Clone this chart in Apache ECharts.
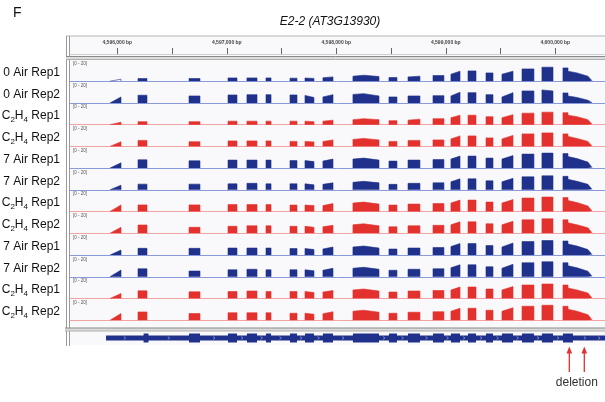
<!DOCTYPE html>
<html>
<head>
<meta charset="utf-8">
<script src="https://cdn.jsdelivr.net/npm/echarts@6/dist/echarts.min.js"></script>
<style>
  html, body { margin: 0; padding: 0; background: #ffffff; }
  #c { width: 605px; height: 402px; }
</style>
</head>
<body>
<div id="c"></div>
<script>
// ---- Locus / view (chr3) ----
const CHROM_OFFSET = 4596000;               // positions below are relative to this
const VIEW_START = 4595568;
const VIEW_END = 4600454;
const rulerTicks = [4596000, 4596500, 4597000, 4597500, 4598000, 4598500, 4599000, 4599500, 4600000];
const rulerLabels = [4596000, 4597000, 4598000, 4599000, 4600000];
const dataRange = [0, 20];

const panelLetter = 'F';
const locusTitle = 'E2-2 (AT3G13930)';

// ---- Track names and sample type ----
const trackNames = [
  '0 Air Rep1', '0 Air Rep2', 'C2H4 Rep1', 'C2H4 Rep2',
  '7 Air Rep1', '7 Air Rep2', 'C2H4 Rep1', 'C2H4 Rep2',
  '7 Air Rep1', '7 Air Rep2', 'C2H4 Rep1', 'C2H4 Rep2'
];
const trackTreatment = ['air', 'air', 'eth', 'eth', 'air', 'air', 'eth', 'eth', 'air', 'air', 'eth', 'eth'];

// ---- Covered segments (bp, relative to CHROM_OFFSET); contiguous pieces share an edge ----
const segments = [
  [-67, 34], [189, 271], [655, 755], [1011, 1093], [1184, 1276], [1358, 1404],
  [1577, 1641], [1714, 1796], [1878, 1970], [2152, 2250], [2250, 2390],
  [2481, 2554], [2655, 2764], [2883, 2983], [3047, 3130], [3203, 3276],
  [3367, 3431], [3513, 3614], [3696, 3805], [3878, 3979],
  [4070, 4116], [4116, 4198], [4198, 4298], [4298, 4335]
];

// ---- Read depth per segment: a number = flat, [left, right] = sloped ----
const cov01 = [[0.8, 2], 2.7, 2.7, 3.3, 3.3, 3.3, 3, [3.2, 2.8], [3.5, 4.3], [5, 6], [6, 4.7], 3.7, [4.3, 5], 5.7, [7, 10], 10.3, 8.3, [7, 10], 12.3, 14, 13.3, [10, 8.3], [8, 5], [4, 0.5]];
const cov02 = [[1, 6], 7.7, 7, 8, 8.3, 8.3, 8, [7.5, 5.5], [6, 8.3], [8.5, 9.3], [9, 7], 6, 7, 7.3, [7, 10.7], 10.3, 8.3, [6, 10.3], 12, [13, 12], 10, [7, 5.5], [5, 2.7], [2, 0.3]];
const cov03 = [[0.5, 2.5], 3, 3, 3.5, 3.5, 3.5, 3.5, [3.5, 3], [3.5, 4.5], [5, 6], [6, 5], 4, [4.5, 5.5], 6, [7, 9.5], 9.5, 8, [7, 10], 11.5, 12.5, 12, [9.5, 8], [7.5, 5], [4, 0.5]];
const cov04 = [[1, 4.7], 6, 4.7, 5.5, 5.5, 5.5, 5, [5, 4.5], [5, 6.5], [7, 8], [8, 6.5], 5, 6, 6.5, [7.5, 10.5], 10.5, 8.5, [7.5, 11], 12.5, 13.5, 12.5, [10, 8], [7.5, 5], [4, 0.5]];
const cov05 = [[1, 5.3], 8.3, 7.3, 8, 8, 8, 7.5, [7.5, 6.5], [7, 9], [9, 10], [10, 8], 7, 8, 8.5, [9, 12], 12, 10, [9, 12.5], 14, 15, 14.5, [11.5, 9.5], [9, 6], [5, 0.5]];
const cov06 = [[1, 4.7], 5.7, 5.7, 6, 6.5, 6, 6, [6, 5], [5.5, 7], [7.5, 8.5], [8.5, 7], 5.5, 6.5, 7, [8, 11], 11, 9, [8, 11.5], 13, 14, 13.5, [10.5, 8.5], [8, 5.5], [4.5, 0.5]];
const cov07 = [[1, 6.7], 6.7, 6.7, 7, 7, 7, 6.5, [6.5, 6], [6, 8], [8.5, 9.5], [9.5, 7.5], 6.5, 7.5, 8, [8.5, 11.5], 11.5, 9.5, [8.5, 12], 13.5, 14.5, 14, [11, 9], [8.5, 5.5], [4.5, 0.5]];
const cov08 = [[1, 6], 8.3, 6, 7, 7.5, 7.5, 7, [7, 6], [6.5, 8], [8.5, 9.5], [9.5, 7.5], 6.5, 7.5, 8, [8.5, 11.5], 11.5, 9.5, [8.5, 12], 13.5, 14.5, 13.5, [10.5, 8.5], [8, 5.5], [4.5, 0.5]];
const cov09 = [[1, 5], 6.7, 6.7, 7, 7, 7, 6.5, [6.5, 5.5], [6, 8], [8, 9], [9, 7], 6, 7, 7.5, [8.5, 11.5], 11.5, 9.5, [8, 12], 13.5, 14.5, 14, [11, 9], [8.5, 5.5], [4.5, 0.5]];
const cov10 = [[1, 6.7], 8, 5.7, 7, 7.5, 7, 7, [7, 6], [6.5, 8.5], [8.5, 9.5], [9.5, 7.5], 6.5, 7.5, 8, [9, 12], 12, 10, [8.5, 12.5], 14, 15, 14, [11, 9], [8.5, 5.5], [4.5, 0.5]];
const cov11 = [[1, 5], 7.7, 6.7, 7, 7.5, 7, 7, [7, 6], [6.5, 8], [8.5, 9.5], [9.5, 7.5], 6.5, 7.5, 8, [8.5, 11.5], 11.5, 9.5, [8.5, 12], 13.5, 14.5, 13.5, [10.5, 8.5], [8, 5.5], [4.5, 0.5]];
const cov12 = [[1, 6.7], 8.3, 6.7, 7.5, 7.5, 7.5, 7, [7, 6], [6.5, 8.5], [9, 10], [10, 8], 7, 8, 8.5, [9, 12], 12, 10, [9, 12.5], 14, 15, 14, [11, 9], [8.5, 5.5], [4.5, 0.5]];
const coverage = [cov01, cov02, cov03, cov04, cov05, cov06, cov07, cov08, cov09, cov10, cov11, cov12];

// ---- Gene model (relative bp) ----
const geneSpan = [-103, 4460];
const geneBlocks = [
  [240, 285], [655, 755], [1011, 1093], [1184, 1276], [1358, 1404], [1577, 1641],
  [1714, 1796], [1878, 1970], [2152, 2390], [2481, 2554], [2655, 2764], [2883, 2983],
  [3047, 3130], [3203, 3276], [3367, 3431], [3513, 3614], [3696, 3805], [3878, 3979],
  [4070, 4161]
];
const deletionSites = [4128, 4265];
const deletionLabel = 'deletion';

// ---- Styling ----
const FONT = '"Liberation Sans", Arial, Helvetica, sans-serif';
const COLORS = {
  air: { fill: '#1f318a', base: '#8a9ad8' },
  eth: { fill: '#e3312e', base: '#f2a4a4' }
};
const PANEL_LEFT = 70;
const TRACK_TOP0 = 61.2, TRACK_STEP = 21.73, TRACK_H = 20;
const GENE_TOP = 331, GENE_H = 14;

const abs = v => CHROM_OFFSET + v;

function coverageSeriesData(values) {
  const pts = [];
  let prevEnd = null;
  segments.forEach((seg, i) => {
    const v = values[i];
    const hl = Array.isArray(v) ? v[0] : v;
    const hr = Array.isArray(v) ? v[1] : v;
    const s = abs(seg[0]), e = abs(seg[1]);
    if (prevEnd !== s) {
      if (prevEnd !== null) {
        pts.push([prevEnd, 0]);
        pts.push([(prevEnd + s) / 2, '-']);
      }
      pts.push([s, 0]);
    }
    pts.push([s, hl]);
    pts.push([e, hr]);
    prevEnd = e;
  });
  pts.push([prevEnd, 0]);
  return pts;
}

function richName(name) {
  if (name.indexOf('C2H4') === 0) {
    return '{m|C}{s|2}{m|H}{s|4}{m|' + name.slice(4) + '}';
  }
  return '{m|' + name + '}';
}

const grids = [], xAxes = [], yAxes = [], series = [];

// Ruler
grids.push({ left: PANEL_LEFT, right: 0, top: 53, height: 1, outerBoundsMode: 'none' });
xAxes.push({
  type: 'value', gridIndex: 0, min: VIEW_START, max: VIEW_END, position: 'top',
  axisLine: { show: true, lineStyle: { color: '#cfcfcf', width: 1 } },
  axisTick: { show: true, customValues: rulerTicks, length: 6, lineStyle: { color: '#666', width: 1 } },
  axisLabel: {
    show: true, customValues: rulerLabels, margin: 8, fontSize: 5, fontWeight: 'bold',
    color: '#444', fontFamily: FONT,
    formatter: v => Number(v).toLocaleString('en-US') + ' bp'
  },
  splitLine: { show: false }
});
yAxes.push({ type: 'value', gridIndex: 0, show: false, min: 0, max: 1 });

// Coverage tracks
trackNames.forEach((name, k) => {
  const gi = k + 1;
  const col = COLORS[trackTreatment[k]];
  grids.push({ left: PANEL_LEFT, right: 0, top: TRACK_TOP0 + TRACK_STEP * k, height: TRACK_H, outerBoundsMode: 'none' });
  xAxes.push({
    type: 'value', gridIndex: gi, min: VIEW_START, max: VIEW_END,
    axisLine: { show: true, lineStyle: { color: col.base, width: 1 } },
    axisTick: { show: false }, axisLabel: { show: false }, splitLine: { show: false }
  });
  yAxes.push({
    type: 'value', gridIndex: gi, min: dataRange[0], max: dataRange[1], interval: dataRange[1],
    axisLine: { show: false }, axisTick: { show: false }, splitLine: { show: false },
    axisLabel: {
      show: true, inside: true, margin: 3, fontSize: 4.5, color: '#555', fontFamily: FONT,
      verticalAlign: 'top', showMaxLabel: true, showMinLabel: false,
      formatter: v => (v === dataRange[1] ? '[' + dataRange[0] + ' - ' + dataRange[1] + ']' : '')
    },
    name: richName(name), nameLocation: 'middle', nameRotate: 0, nameGap: 10,
    nameTextStyle: {
      align: 'right', verticalAlign: 'middle', fontFamily: FONT, padding: [3, 0, 0, 0],
      rich: {
        m: { fontSize: 12, lineHeight: 16, color: '#111', fontFamily: FONT, verticalAlign: 'middle' },
        s: { fontSize: 8, lineHeight: 8, color: '#111', fontFamily: FONT, verticalAlign: 'bottom' }
      }
    }
  });
  series.push({
    type: 'line', xAxisIndex: gi, yAxisIndex: gi,
    data: coverageSeriesData(coverage[k]),
    symbol: 'none', smooth: false, connectNulls: false, silent: true, animation: false,
    lineStyle: { width: 0.6, color: col.fill },
    areaStyle: { color: col.fill, opacity: 1 }
  });
});

// Gene model
const G = trackNames.length + 1;
grids.push({ left: PANEL_LEFT, right: 0, top: GENE_TOP, height: GENE_H, outerBoundsMode: 'none' });
xAxes.push({ type: 'value', gridIndex: G, min: VIEW_START, max: VIEW_END, show: false });
yAxes.push({ type: 'value', gridIndex: G, min: 0, max: 1, show: false });

series.push({
  type: 'custom', xAxisIndex: G, yAxisIndex: G, silent: true, animation: false,
  data: [geneSpan.map(abs)],
  renderItem: (params, api) => {
    const a = api.coord([api.value(0), 0.5]);
    const b = api.coord([api.value(1), 0.5]);
    return { type: 'rect', shape: { x: a[0], y: a[1] - 2.5, width: b[0] - a[0], height: 5 }, style: { fill: COLORS.air.fill } };
  }
});
series.push({
  type: 'custom', xAxisIndex: G, yAxisIndex: G, silent: true, animation: false,
  data: geneBlocks.map(b => b.map(abs)),
  renderItem: (params, api) => {
    const a = api.coord([api.value(0), 0.5]);
    const b = api.coord([api.value(1), 0.5]);
    return { type: 'rect', shape: { x: a[0], y: a[1] - 4.5, width: b[0] - a[0], height: 9 }, style: { fill: COLORS.air.fill } };
  }
});
// strand chevrons in the gaps between blocks
const chevronPos = [];
for (let i = 0; i + 1 < geneBlocks.length; i++) {
  const gap = geneBlocks[i + 1][0] - geneBlocks[i][1];
  if (gap > 60) chevronPos.push(abs((geneBlocks[i][1] + geneBlocks[i + 1][0]) / 2));
}
chevronPos.push(abs((geneSpan[0] + geneBlocks[0][0]) / 2));
chevronPos.push(abs(4270), abs(4400));
series.push({
  type: 'custom', xAxisIndex: G, yAxisIndex: G, silent: true, animation: false,
  data: chevronPos.map(p => [p]),
  renderItem: (params, api) => {
    const c = api.coord([api.value(0), 0.5]);
    return {
      type: 'polyline',
      shape: { points: [[c[0] - 1, c[1] - 1.5], [c[0] + 1, c[1]], [c[0] - 1, c[1] + 1.5]] },
      style: { stroke: '#9aa8e6', lineWidth: 0.7, fill: null }
    };
  }
});
// deletion arrows
series.push({
  type: 'custom', xAxisIndex: G, yAxisIndex: G, silent: true, animation: false, clip: false,
  data: deletionSites.map(p => [abs(p)]),
  renderItem: (params, api) => {
    const x = api.coord([api.value(0), 0])[0];
    return {
      type: 'group',
      children: [
        { type: 'line', shape: { x1: x, y1: 352, x2: x, y2: 372 }, style: { stroke: '#e3312e', lineWidth: 1.3 } },
        { type: 'polygon', shape: { points: [[x, 346.5], [x - 2.8, 353.5], [x + 2.8, 353.5]] }, style: { fill: '#e3312e' } }
      ]
    };
  }
});
series.push({
  type: 'custom', xAxisIndex: G, yAxisIndex: G, silent: true, animation: false, clip: false,
  data: [[abs((deletionSites[0] + deletionSites[1]) / 2)]],
  renderItem: (params, api) => {
    const x = api.coord([api.value(0), 0])[0];
    return {
      type: 'text', x: x, y: 382.5,
      style: { text: deletionLabel, fontSize: 12, fontFamily: FONT, fill: '#333', align: 'center', verticalAlign: 'middle' }
    };
  }
});

// Panel frame
const FRAME = '#9a9a9a';
const graphic = [
  { type: 'rect', z: -10, shape: { x: 70, y: 36, width: 535, height: 309 }, style: { fill: '#f9f9fb' } },
  { type: 'line', shape: { x1: 66, y1: 36, x2: 605, y2: 36 }, style: { stroke: '#b5b5b5', lineWidth: 1 } },
  { type: 'line', shape: { x1: 66.5, y1: 36, x2: 66.5, y2: 346 }, style: { stroke: FRAME, lineWidth: 1 } },
  { type: 'line', shape: { x1: 69.5, y1: 36, x2: 69.5, y2: 346 }, style: { stroke: FRAME, lineWidth: 1 } },
  { type: 'rect', shape: { x: 66, y: 56.5, width: 539, height: 3 }, style: { fill: '#dcdcdc' } },
  { type: 'line', shape: { x1: 66, y1: 56.5, x2: 605, y2: 56.5 }, style: { stroke: '#8a8a8a', lineWidth: 1 } },
  { type: 'line', shape: { x1: 66, y1: 59.5, x2: 605, y2: 59.5 }, style: { stroke: '#b0b0b0', lineWidth: 1 } },
  { type: 'rect', shape: { x: 65, y: 328, width: 540, height: 3 }, style: { fill: '#dcdcdc' } },
  { type: 'line', shape: { x1: 65, y1: 328, x2: 605, y2: 328 }, style: { stroke: '#8a8a8a', lineWidth: 1 } },
  { type: 'line', shape: { x1: 65, y1: 331, x2: 605, y2: 331 }, style: { stroke: '#b0b0b0', lineWidth: 1 } },
  { type: 'text', x: 13, y: 6, style: { text: panelLetter, fontSize: 14, fontFamily: FONT, fill: '#111' } },
  { type: 'text', x: 330, y: 22, style: { text: locusTitle, fontSize: 12, fontStyle: 'italic', fontFamily: FONT, fill: '#111', align: 'center', verticalAlign: 'middle' } }
];

const chart = echarts.init(document.getElementById('c'), null, { renderer: 'canvas', width: 605, height: 402 });
chart.setOption({
  animation: false,
  backgroundColor: '#ffffff',
  textStyle: { fontFamily: FONT },
  grid: grids,
  xAxis: xAxes,
  yAxis: yAxes,
  series: series,
  graphic: graphic
});
</script>
</body>
</html>
